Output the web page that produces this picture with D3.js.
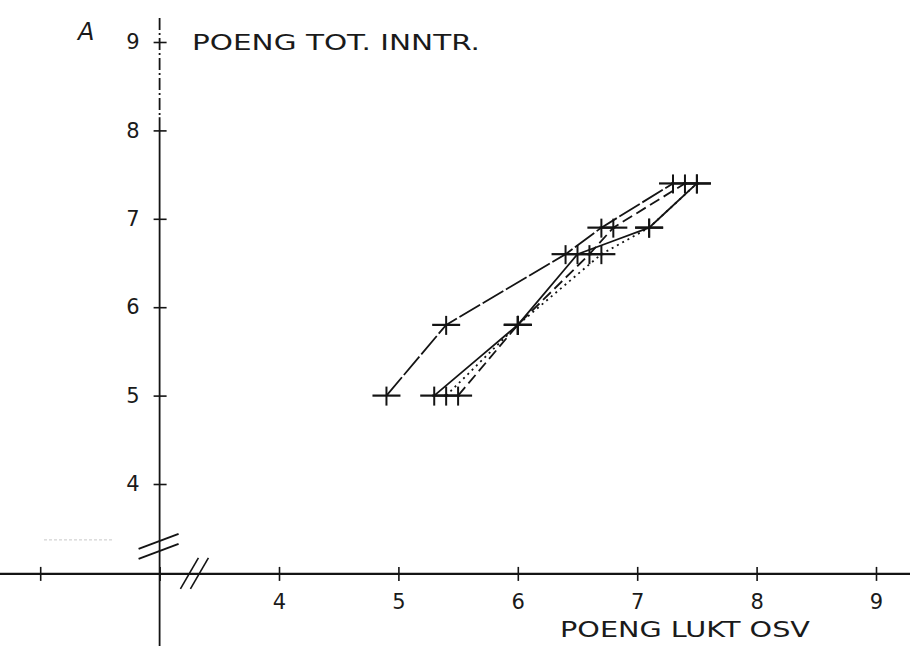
<!DOCTYPE html>
<html>
<head>
<meta charset="utf-8">
<script src="https://cdn.jsdelivr.net/npm/d3@7"></script>
<style>
  html, body { margin: 0; padding: 0; background: #fff; }
  svg { display: block; }
  text { font-family: "DejaVu Sans", sans-serif; fill: #1a1a1a; }
</style>
</head>
<body>
<svg id="chart" width="910" height="646"></svg>
<script>
// ---- data ----
const yLevels   = [5.0, 5.8, 6.6, 6.9, 7.4];          // POENG TOT. INNTR.
const seriesA   = [4.9, 5.4, 6.4, 6.7, 7.3];          // long-dash (near solid)
const seriesB   = [5.5, 6.0, 6.6, 6.8, 7.4];          // dashed
const seriesC   = [5.4, 6.0, 6.7, 7.1, 7.5];          // dotted
const seriesD   = [5.3, 6.0, 6.5, 7.1, 7.5];          // solid
const seriesNames = ["A", "B", "C", "D"];
const xTickValues = [2, 3, 4, 5, 6, 7, 8, 9];
const xTickLabels = ["", "", "4", "5", "6", "7", "8", "9"];
const yTickValues = [4, 5, 6, 7, 8, 9];
const yTickLabels = ["4", "5", "6", "7", "8", "9"];
const xTitle = "POENG LUKT OSV";
const yTitle = "POENG TOT. INNTR.";
const panelLabel = "A";

// ---- setup ----
const svg = d3.select("#chart");
const x = d3.scaleLinear().domain([4, 9]).range([279, 876]);
const y = d3.scaleLinear().domain([4, 9]).range([484, 42]);
const x0 = x(3), y0 = y(3) + 1.5;
const ink = "#141414";

// ---- x axis ----
svg.append("line")
  .attr("x1", 0).attr("x2", 910).attr("y1", y0).attr("y2", y0)
  .attr("stroke", ink).attr("stroke-width", 2.2);

const xAxis = d3.axisBottom(x)
  .tickValues(xTickValues)
  .tickSize(7)
  .tickFormat((d, i) => xTickLabels[i]);
const gx = svg.append("g").attr("transform", `translate(0,${y0})`).call(xAxis);
gx.select(".domain").remove();
gx.selectAll(".tick line").attr("y1", -7).attr("y2", 7).attr("stroke", ink).attr("stroke-width", 1.6);
gx.selectAll(".tick text").attr("y", 20).attr("dy", "0.71em")
  .style("font-size", "21px").style("font-family", "DejaVu Sans").attr("fill", ink);

// ---- y axis ----
svg.append("line")
  .attr("x1", x0).attr("x2", x0).attr("y1", y(8.15)).attr("y2", 646)
  .attr("stroke", ink).attr("stroke-width", 1.8);
svg.append("line")
  .attr("x1", x0).attr("x2", x0).attr("y1", 18).attr("y2", y(8.15))
  .attr("stroke", ink).attr("stroke-width", 1.8).attr("stroke-dasharray", "12,3,2,3");

const yAxis = d3.axisLeft(y)
  .tickValues(yTickValues)
  .tickSize(7)
  .tickFormat((d, i) => yTickLabels[i]);
const gy = svg.append("g").attr("transform", `translate(${x0},0)`).call(yAxis);
gy.select(".domain").remove();
gy.selectAll(".tick line").attr("x1", -6).attr("x2", 7).attr("stroke", ink).attr("stroke-width", 1.6);
gy.selectAll(".tick text").attr("x", -20)
  .style("font-size", "21px").style("font-family", "DejaVu Sans").attr("fill", ink);

// ---- axis break marks ----
const yb = y(3.3), xb = x(3.3);
[-5, 5].forEach(o => {
  svg.append("line")
    .attr("x1", x0 - 21).attr("y1", yb + o + 8)
    .attr("x2", x0 + 19).attr("y2", yb + o - 7)
    .attr("stroke", ink).attr("stroke-width", 2);
  svg.append("line")
    .attr("x1", xb + o - 10).attr("y1", y0 + 15)
    .attr("x2", xb + o + 8).attr("y2", y0 - 16)
    .attr("stroke", ink).attr("stroke-width", 1.6);
});
svg.append("line")
  .attr("x1", 44).attr("x2", 112).attr("y1", yb - 6).attr("y2", yb - 6)
  .attr("stroke", "#c8c8c8").attr("stroke-width", 1).attr("stroke-dasharray", "3,2");

// ---- series ----
const allSeries = [seriesA, seriesB, seriesC, seriesD].map((vals, i) => ({
  name: seriesNames[i],
  points: vals.map((v, j) => ({ x: v, y: yLevels[j] }))
}));
const dashes = ["24,3", "11,5", "2,4", "60,0"];
const line = d3.line().x(d => x(d.x)).y(d => y(d.y));

svg.append("g").selectAll("path")
  .data(allSeries).join("path")
  .attr("d", d => line(d.points))
  .attr("fill", "none")
  .attr("stroke", ink)
  .attr("stroke-width", 1.8)
  .attr("stroke-dasharray", (d, i) => dashes[i]);

// crosses
const pts = allSeries.flatMap(s => s.points);
const gc = svg.append("g");
gc.selectAll("line.h").data(pts).join("line").attr("class", "h")
  .attr("x1", d => x(d.x) - 14).attr("x2", d => x(d.x) + 14)
  .attr("y1", d => y(d.y)).attr("y2", d => y(d.y))
  .attr("stroke", ink).attr("stroke-width", 2.2);
gc.selectAll("line.v").data(pts).join("line").attr("class", "v")
  .attr("x1", d => x(d.x)).attr("x2", d => x(d.x))
  .attr("y1", d => y(d.y) - 9).attr("y2", d => y(d.y) + 10)
  .attr("stroke", ink).attr("stroke-width", 2);

// ---- titles ----
svg.append("text")
  .attr("x", 192).attr("y", y(9) + 8)
  .attr("textLength", 288).attr("lengthAdjust", "spacingAndGlyphs")
  .style("font-size", "21px")
  .text(yTitle);
svg.append("text")
  .attr("x", 560).attr("y", 637)
  .attr("textLength", 250).attr("lengthAdjust", "spacingAndGlyphs")
  .style("font-size", "21px")
  .text(xTitle);
svg.append("text")
  .attr("x", 78).attr("y", 40)
  .style("font-size", "24px").style("font-style", "italic")
  .text(panelLabel);
</script>
</body>
</html>
